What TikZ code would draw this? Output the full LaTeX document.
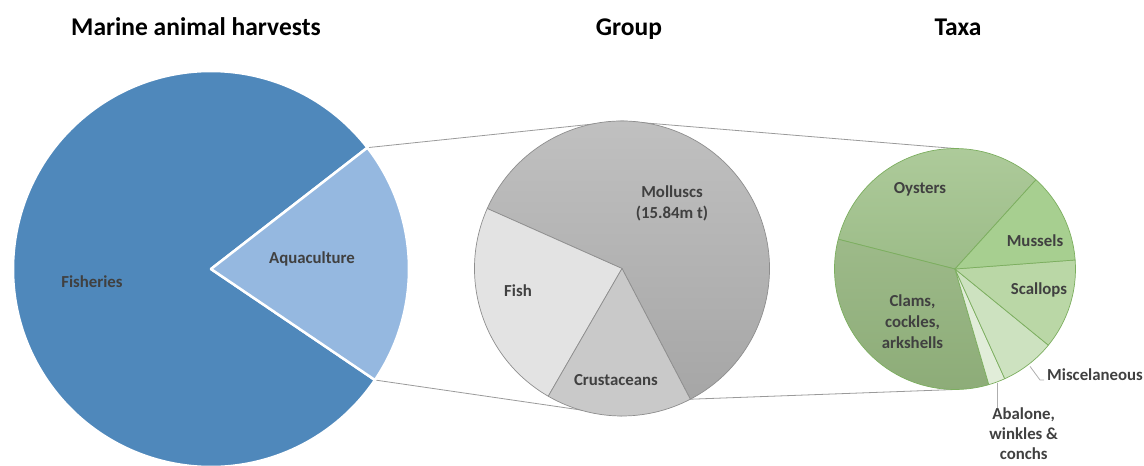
\documentclass[tikz,border=0pt]{standalone}
\usepackage{fontspec}
\setmainfont{Carlito}
\usetikzlibrary{calc}
\definecolor{fishblue}{HTML}{4F88BB}
\definecolor{aquablue}{HTML}{95B8E0}
\definecolor{grpedge}{HTML}{8E8E8E}
\definecolor{fishgray}{HTML}{E3E3E3}
\definecolor{crustgray}{HTML}{C9C9C9}
\definecolor{mollustop}{HTML}{C2C2C2}
\definecolor{mollusbot}{HTML}{A6A6A6}
\definecolor{taxedge}{HTML}{7CAE5F}
\definecolor{oystertop}{HTML}{AFCC9C}
\definecolor{oysterbot}{HTML}{9CBC88}
\definecolor{clamtop}{HTML}{9DBA89}
\definecolor{clambot}{HTML}{8DAC78}
\definecolor{musselgreen}{HTML}{A7CF90}
\definecolor{scallopgreen}{HTML}{BAD7A6}
\definecolor{miscgreen}{HTML}{CDE2C0}
\definecolor{abalonegreen}{HTML}{E1EDD9}
\definecolor{labelgray}{HTML}{404040}
\definecolor{linkgray}{HTML}{9A9A9A}
\begin{document}
\begin{tikzpicture}[x=1pt,y=1pt,
  pielbl/.style={font=\fontsize{16.8}{20.8}\selectfont\bfseries,text=labelgray,align=center,inner sep=0pt},
  headlbl/.style={font=\fontsize{25.5}{30}\selectfont\bfseries,anchor=base,inner sep=0pt},
  link/.style={draw=linkgray,line width=0.8pt},
  leader/.style={draw=linkgray!80,line width=0.8pt},
  harvslice/.style={draw=white,line width=2.5pt,line join=round},
  grpslice/.style={draw=grpedge,line width=0.7pt,line join=round},
  taxslice/.style={draw=taxedge,line width=0.7pt,line join=round}]
\useasboundingbox (0,0) rectangle (1144,-466);
\clip (0,0) rectangle (1144,-466);
\coordinate (harv) at (211,-269);
\coordinate (grp) at (622,-268.5);
\coordinate (tax) at (955,-269);
\coordinate (aquaup) at ($(harv)+(37.8:198)$);
\coordinate (aquadn) at ($(harv)+(-34.1:198)$);
\coordinate (grptop) at ($(grp)+(90:147.5)$);
\coordinate (grpbot) at ($(grp)+(-90:147.5)$);
\coordinate (grpcut) at ($(grp)+(-62.4:147.5)$);
\coordinate (taxtop) at ($(tax)+(90:120.5)$);
\coordinate (taxbot) at ($(tax)+(-90:120.5)$);
\draw[link] (aquaup) -- (grptop);
\draw[link] (aquadn) -- (grpbot);
\draw[link] (grptop) -- (taxtop);
\draw[link] (grpcut) -- (taxbot);
\path[harvslice,fill=fishblue] (harv) -- ++(37.8:198pt) arc[start angle=37.8,end angle=325.9,radius=198pt] -- cycle;
\path[harvslice,fill=aquablue] (harv) -- ++(-34.1:198pt) arc[start angle=-34.1,end angle=37.8,radius=198pt] -- cycle;
\path[grpslice,top color=mollustop,bottom color=mollusbot] (grp) -- ++(-62.4:147.5pt) arc[start angle=-62.4,end angle=156,radius=147.5pt] -- cycle;
\path[grpslice,fill=fishgray] (grp) -- ++(156:147.5pt) arc[start angle=156,end angle=240,radius=147.5pt] -- cycle;
\path[grpslice,fill=crustgray] (grp) -- ++(240:147.5pt) arc[start angle=240,end angle=297.6,radius=147.5pt] -- cycle;
\path[taxslice,top color=oystertop,bottom color=oysterbot] (tax) -- ++(47.8:120.5pt) arc[start angle=47.8,end angle=165.7,radius=120.5pt] -- cycle;
\path[taxslice,top color=clamtop,bottom color=clambot] (tax) -- ++(165.7:120.5pt) arc[start angle=165.7,end angle=286.3,radius=120.5pt] -- cycle;
\path[taxslice,fill=abalonegreen] (tax) -- ++(286.3:120.5pt) arc[start angle=286.3,end angle=294.4,radius=120.5pt] -- cycle;
\path[taxslice,fill=miscgreen] (tax) -- ++(294.4:120.5pt) arc[start angle=294.4,end angle=320.8,radius=120.5pt] -- cycle;
\path[taxslice,fill=scallopgreen] (tax) -- ++(-39.2:120.5pt) arc[start angle=-39.2,end angle=4.3,radius=120.5pt] -- cycle;
\path[taxslice,fill=musselgreen] (tax) -- ++(4.3:120.5pt) arc[start angle=4.3,end angle=47.8,radius=120.5pt] -- cycle;
\node[headlbl] (harvtitle) at (196,-35) {Marine animal harvests};
\node[headlbl] (grptitle) at (629,-35) {Group};
\node[headlbl] (taxtitle) at (958,-35) {Taxa};
\node[pielbl] (fisheries) at (92,-282) {Fisheries};
\node[pielbl] (aquaculture) at (312,-259) {Aquaculture};
\node[pielbl] (molluscs) at (672,-203) {Molluscs\\(15.84m t)};
\node[pielbl] (fish) at (518,-291) {Fish};
\node[pielbl] (crustaceans) at (616,-380) {Crustaceans};
\node[pielbl] (oysters) at (920,-189) {Oysters};
\node[pielbl] (mussels) at (1035,-241) {Mussels};
\node[pielbl] (scallops) at (1039,-290) {Scallops};
\node[pielbl] (clams) at (912.5,-321.5) {Clams,\\cockles,\\arkshells};
\node[pielbl,anchor=west] (misc) at (1047,-375) {Miscelaneous};
\node[pielbl,font=\fontsize{16.8}{20}\selectfont\bfseries] (abalone) at (1023.7,-434) {Abalone,\\winkles \&\\conchs};
\coordinate (misctip) at ($(tax)+(-52.4:123)$);
\coordinate (miscbend) at (1040,-380);
\coordinate (abtip) at ($(tax)+(-69.6:122)$);
\draw[leader] (misctip) -- (miscbend) -- ([xshift=-3pt]misc.west |- miscbend);
\draw[leader] (abtip) -- (abtip |- abalone.north);
\end{tikzpicture}
\end{document}
